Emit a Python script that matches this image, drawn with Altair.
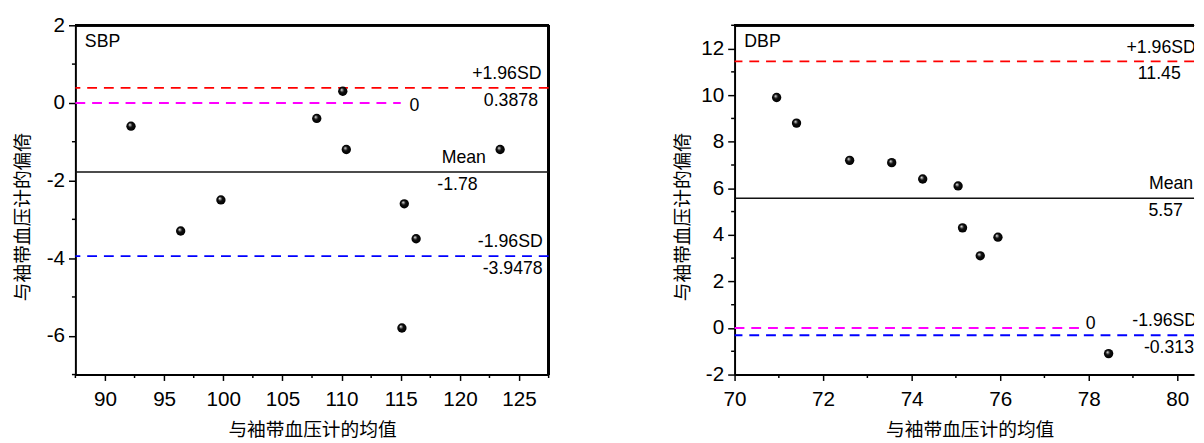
import altair as alt
import pandas as pd

# ---------------- data ----------------
sbp_avg = [92.2, 96.4, 99.8, 107.9, 110.1, 110.4, 115.1, 115.3, 116.3, 123.4]
sbp_bias = [-0.6, -3.3, -2.5, -0.4, 0.3, -1.2, -5.8, -2.6, -3.5, -1.2]

dbp_avg = [70.95, 71.4, 72.6, 73.55, 74.25, 75.05, 75.15, 75.55, 75.95, 78.45]
dbp_bias = [9.9, 8.8, 7.2, 7.1, 6.4, 6.1, 4.3, 3.1, 3.9, -1.1]

line_names = ["+1.96SD", "Mean", "-1.96SD"]
line_colors = ["#ff0000", "#111111", "#0000ff"]
sbp_limits = [0.3878, -1.78, -3.9478]
sbp_limit_text = ["0.3878", "-1.78", "-3.9478"]
dbp_limits = [11.45, 5.57, -0.313]
dbp_limit_text = ["11.45", "5.57", "-0.313"]

x_title = "与袖带血压计的均值"
y_title = "与袖带血压计的偏倚"

sbp_x_major = [90, 95, 100, 105, 110, 115, 120, 125]
sbp_x_minor = [87.5, 92.5, 97.5, 102.5, 107.5, 112.5, 117.5, 122.5, 127.5]
sbp_y_major = [-6, -4, -2, 0, 2]
sbp_y_minor = [-7, -5, -3, -1, 1]
dbp_x_major = [70, 72, 74, 76, 78, 80]
dbp_x_minor = [71, 73, 75, 77, 79]
dbp_y_major = [-2, 0, 2, 4, 6, 8, 10, 12]
dbp_y_minor = [-1, 1, 3, 5, 7, 9, 11, 13]

FONT = "Liberation Sans"
LABEL_EXPR = "replace(datum.label, '\u2212', '-')"

ball = {
    "gradient": "radial",
    "x1": 0.36, "y1": 0.32, "r1": 0.0,
    "x2": 0.5, "y2": 0.5, "r2": 0.5,
    "stops": [
        {"offset": 0.0, "color": "#ffffff"},
        {"offset": 0.18, "color": "#9a9a9a"},
        {"offset": 0.45, "color": "#111111"},
        {"offset": 1.0, "color": "#000000"},
    ],
}


def panel(tag, avg, bias, limits, limit_text, xdom, ydom, x_major, x_minor,
          y_major, y_minor, zero_end, name_x, num_x, zero_x, zero_dy, tag_xy,
          width, height, full_frame, clip, ytitle_pad, title_x=None):
    xscale = alt.Scale(domain=xdom, nice=False, zero=False)
    yscale = alt.Scale(domain=ydom, nice=False, zero=False)
    xaxis_kw = dict(values=x_major, labelExpr=LABEL_EXPR, tickSize=6,
                    title=x_title, labelPadding=8, titlePadding=12)
    if title_x is not None:
        xaxis_kw["titleX"] = title_x
    xaxis = alt.Axis(**xaxis_kw)
    yaxis = alt.Axis(values=y_major, labelExpr=LABEL_EXPR, tickSize=7,
                     title=y_title, labelPadding=4, titlePadding=ytitle_pad,
                     titleY=height / 2 + 17)

    def X(field, **kw):
        return alt.X(field, scale=xscale, axis=xaxis, **kw)

    def Y(field, **kw):
        return alt.Y(field, scale=yscale, axis=yaxis, **kw)

    pts = pd.DataFrame({"avg": avg, "bias": bias})
    lim = pd.DataFrame({"name": line_names, "value": limits, "num": limit_text,
                        "nx": name_x, "mx": num_x})

    layers = []
    points = alt.Chart(pts).mark_circle(size=90, opacity=1, fill=ball).encode(
        x=X("avg:Q"), y=Y("bias:Q"))

    # frame lines (top, and right if full)
    layers.append(alt.Chart(pts).mark_rule(color="black", strokeWidth=2).encode(
        x=alt.value(0), x2=alt.value(width), y=alt.value(0)))
    if full_frame:
        layers.append(alt.Chart(pts).mark_rule(color="black", strokeWidth=2).encode(
            x=alt.value(width), y=alt.value(0), y2=alt.value(height)))

    # minor ticks
    layers.append(alt.Chart(pd.DataFrame({"v": x_minor})).mark_rule(color="black", strokeWidth=1.5).encode(
        x=X("v:Q"), y=alt.value(height), y2=alt.value(height + 3.5)))
    layers.append(alt.Chart(pd.DataFrame({"v": y_minor})).mark_rule(color="black", strokeWidth=1.5).encode(
        y=Y("v:Q"), x=alt.value(0), x2=alt.value(-3.5)))

    # zero line
    zero_df = pd.DataFrame({"x0": [xdom[0]], "x1": [zero_end], "y": [0]})
    layers.append(alt.Chart(zero_df).mark_rule(color="#ff00ff", strokeWidth=2, strokeDash=[10, 7]).encode(
        x=X("x0:Q"), x2="x1:Q", y=Y("y:Q")))
    layers.append(alt.Chart(zero_df).mark_text(text="0", align="left", baseline="middle", dy=zero_dy,
                                               dx=zero_x, font=FONT, fontSize=18, color="black").encode(
        x=X("x1:Q"), y=Y("y:Q")))

    # limit lines
    for i in range(3):
        one = lim.iloc[[i]]
        kw = dict(color=line_colors[i], strokeWidth=1.6 if i == 1 else 2)
        if i != 1:
            kw["strokeDash"] = [10, 7]
        layers.append(alt.Chart(one).mark_rule(**kw).encode(y=Y("value:Q")))

    tkw = dict(font=FONT, fontSize=18, color="black", baseline="middle", align="right")
    if clip:
        tkw["clip"] = True
    layers.append(alt.Chart(lim).mark_text(dy=-14, **tkw).encode(
        x=X("nx:Q"), y=Y("value:Q"), text="name:N"))
    layers.append(alt.Chart(lim).mark_text(dy=13, **tkw).encode(
        x=X("mx:Q"), y=Y("value:Q"), text="num:N"))

    tag_df = pd.DataFrame({"t": [tag], "x": [tag_xy[0]], "y": [tag_xy[1]]})
    layers.append(alt.Chart(tag_df).mark_text(font=FONT, fontSize=18, color="black",
                                              align="left", baseline="middle").encode(
        x=X("x:Q"), y=Y("y:Q"), text="t:N"))

    layers.append(points)
    return alt.layer(*layers).properties(width=width, height=height)


sbp = panel("SBP", sbp_avg, sbp_bias, sbp_limits, sbp_limit_text,
            [87.5, 127.5], [-7, 2], sbp_x_major, sbp_x_minor, sbp_y_major, sbp_y_minor,
            115.0, [126.9, 122.2, 127.0], [126.6, 121.5, 127.0], 9, 3,
            (88.3, 1.575), 481, 355, True, False, 14)

dbp = panel("DBP", dbp_avg, dbp_bias, dbp_limits, dbp_limit_text,
            [70, 80.38], [-2, 13], dbp_x_major, dbp_x_minor, dbp_y_major, dbp_y_minor,
            77.8, [80.42, 80.36, 80.45], [80.08, 80.13, 80.38], 6, -4,
            (70.22, 12.26), 467, 355, False, True, 8, title_x=239)

chart = alt.hconcat(sbp, dbp, spacing=189, bounds="flush").properties(
    padding={"left": 4.5, "top": 2, "right": 0, "bottom": 0}
).configure_view(stroke="transparent").configure_axis(
    domainColor="black", domainWidth=2, tickColor="black", tickWidth=1.5,
    labelFont=FONT, labelFontSize=21, labelColor="black",
    titleFont="Noto Sans CJK SC", titleFontSize=19, titleFontWeight="normal",
    titleColor="black", grid=False, labelFlush=False, labelOverlap=False,
)

chart.save("out.html", embed_options={"renderer": "svg", "actions": False})
